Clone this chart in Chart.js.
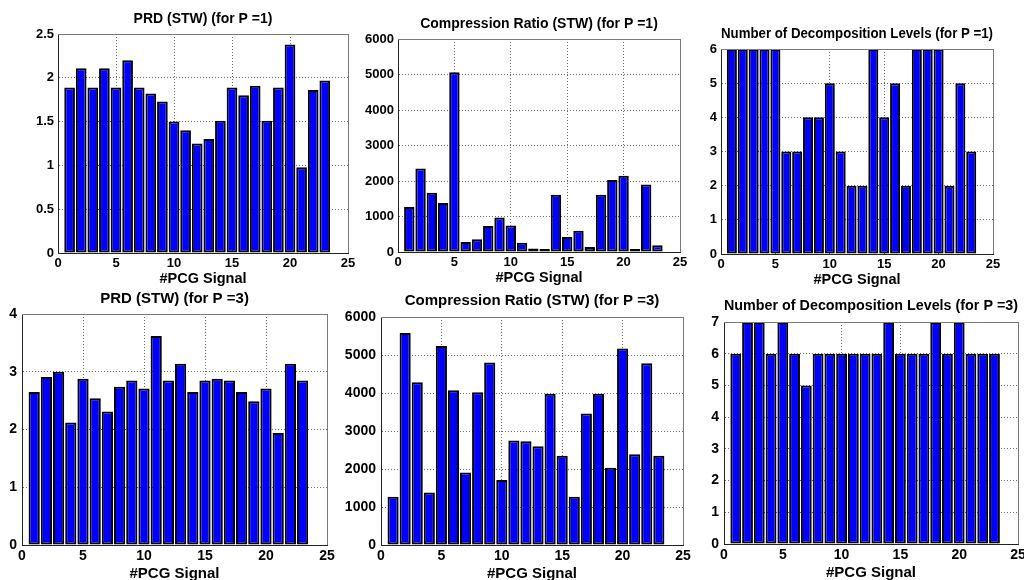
<!DOCTYPE html>
<html>
<head>
<meta charset="utf-8">
<script src="https://cdn.jsdelivr.net/npm/chart.js@4.4.1/dist/chart.umd.min.js"></script>
<style>
  html, body { margin: 0; padding: 0; background: #fff; }
  body { width: 1024px; height: 580px; overflow: hidden; position: relative; }
  canvas { position: absolute; }
</style>
</head>
<body>
<canvas id="c1"></canvas>
<canvas id="c2"></canvas>
<canvas id="c3"></canvas>
<canvas id="c4"></canvas>
<canvas id="c5"></canvas>
<canvas id="c6"></canvas>
<script>
// #PCG signal numbers (x categories)
var signals = [1, 2, 3, 4, 5, 6, 7, 8, 9, 10, 11, 12, 13, 14, 15, 16, 17, 18, 19, 20, 21, 22, 23];

// P = 1
var prdP1 = [1.89, 2.11, 1.89, 2.11, 1.89, 2.2, 1.89, 1.82, 1.73, 1.5, 1.4, 1.25, 1.3, 1.51, 1.89, 1.8, 1.91, 1.51, 1.89, 2.38, 0.98, 1.86, 1.97];
var crP1 = [1270, 2350, 1670, 1380, 5060, 280, 360, 730, 970, 750, 260, 100, 85, 1610, 420, 600, 140, 1610, 2030, 2145, 85, 1900, 190];
var levelsP1 = [6, 6, 6, 6, 6, 3, 3, 4, 4, 5, 3, 2, 2, 6, 4, 5, 2, 6, 6, 6, 2, 5, 3];

// P = 3
var prdP3 = [2.65, 2.91, 3.0, 2.12, 2.88, 2.54, 2.31, 2.74, 2.85, 2.71, 3.62, 2.85, 3.14, 2.65, 2.85, 2.88, 2.85, 2.65, 2.49, 2.71, 1.94, 3.14, 2.85];
var crP3 = [1270, 5580, 4280, 1380, 5240, 4070, 1910, 4020, 4800, 1710, 2750, 2730, 2600, 3980, 2350, 1270, 3460, 3980, 2030, 5170, 2390, 4780, 2350];
var levelsP3 = [6, 7, 7, 6, 7, 6, 5, 6, 6, 6, 6, 6, 6, 7, 6, 6, 6, 7, 6, 7, 6, 6, 6];

// Axis limits
var xMax = 25;
var xStep = 5;
var xLabel = '#PCG Signal';

var FONT = "'Liberation Sans', Arial, sans-serif";
var Y_W = 50;   // fixed width of the y axis box
var R_PAD = 20; // right padding of each canvas
var T_H = 30;   // height of the title box

// Panel layout: plot box [left, top, right, bottom] in page pixels
var panels = [
  { id: 'c1', title: 'PRD (STW) (for P =1)', values: prdP1, yMax: 2.5, yStep: 0.5, box: [58, 34, 348, 253], row: 0, titleOff: 15 },
  { id: 'c2', title: 'Compression Ratio (STW) (for P =1)', values: crP1, yMax: 6000, yStep: 1000, box: [398, 39, 680, 252], row: 0, titleOff: 15 },
  { id: 'c3', title: 'Number of Decomposition Levels (for P =1)', values: levelsP1, yMax: 6, yStep: 1, box: [721, 49, 993, 254], row: 0, titleOff: 15 },
  { id: 'c4', title: 'PRD (STW) (for P =3)', values: prdP3, yMax: 4, yStep: 1, box: [22, 314, 327, 545], row: 1, titleOff: 15 },
  { id: 'c5', title: 'Compression Ratio (STW) (for P =3)', values: crP3, yMax: 6000, yStep: 1000, box: [381, 317, 683, 545], row: 1, titleOff: 16 },
  { id: 'c6', title: 'Number of Decomposition Levels (for P =3)', values: levelsP3, yMax: 7, yStep: 1, box: [724, 322, 1018, 544], row: 1, titleOff: 16 }
];

// Font sizes per row (bottom row was rendered a little larger)
var rowStyle = [
  { title: 14, ticks: 13, xlabel: 14.5, xh: 34, yPad: 4 },
  { title: 15, ticks: 14, xlabel: 15, xh: 37, yPad: 5 }
];

// Draws the top and right edges of the axes box
var framePlugin = {
  id: 'frame',
  afterDatasetsDraw: function (chart) {
    var a = chart.chartArea;
    var ctx = chart.ctx;
    ctx.save();
    ctx.strokeStyle = '#7a7a7a';
    ctx.lineWidth = 1;
    ctx.beginPath();
    ctx.moveTo(a.left, a.top + 0.5);
    ctx.lineTo(a.right + 0.5, a.top + 0.5);
    ctx.lineTo(a.right + 0.5, a.bottom);
    ctx.stroke();
    ctx.restore();
  }
};

function makePanel(p) {
  var st = rowStyle[p.row];
  var canvas = document.getElementById(p.id);
  var l = p.box[0], t = p.box[1], r = p.box[2], b = p.box[3];
  canvas.width = (r - l) + Y_W + R_PAD;
  canvas.height = (b - t) + T_H + st.xh;
  canvas.style.left = (l - Y_W) + 'px';
  canvas.style.top = (t - T_H) + 'px';

  var padTop = T_H - 8 - p.titleOff;

  new Chart(canvas, {
    type: 'bar',
    data: {
      labels: signals,
      datasets: [{
        data: p.values,
        backgroundColor: '#0000ff',
        borderColor: '#000000',
        borderWidth: 2,
        borderSkipped: false,
        barPercentage: 0.92,
        categoryPercentage: 1.0
      }]
    },
    options: {
      responsive: false,
      animation: false,
      layout: { padding: { top: 0, left: 0, bottom: 0, right: R_PAD } },
      plugins: {
        legend: { display: false },
        tooltip: { enabled: false },
        title: {
          display: true,
          text: p.title,
          fullSize: false,
          color: '#000',
          font: { family: FONT, size: st.title, weight: 'bold', lineHeight: '16px' },
          padding: { top: padTop, bottom: T_H - 16 - padTop }
        }
      },
      scales: {
        x: {
          type: 'linear',
          min: 0,
          max: xMax,
          offset: false,
          grid: { offset: false, color: '#6a6a6a', lineWidth: 1, drawTicks: false },
          border: { display: true, color: '#222', width: 1, dash: [1, 2] },
          ticks: {
            stepSize: xStep,
            padding: 3,
            color: '#000',
            maxRotation: 0,
            font: { family: FONT, size: st.ticks, weight: 'bold', lineHeight: 1.2 },
            callback: function (v) { return String(v); }
          },
          title: {
            display: true,
            text: xLabel,
            color: '#000',
            padding: { top: 0, bottom: 0 },
            font: { family: FONT, size: st.xlabel, weight: 'bold', lineHeight: '16px' }
          },
          afterFit: function (scale) { scale.height = st.xh; }
        },
        y: {
          min: 0,
          max: p.yMax,
          grid: { color: '#6a6a6a', lineWidth: 1, drawTicks: false },
          border: { display: true, color: '#222', width: 1, dash: [1, 2] },
          ticks: {
            stepSize: p.yStep,
            padding: st.yPad,
            color: '#000',
            font: { family: FONT, size: st.ticks, weight: 'bold', lineHeight: 1.2 },
            callback: function (v) { return String(Math.round(v * 100) / 100); }
          },
          afterFit: function (scale) { scale.width = Y_W; }
        }
      }
    },
    plugins: [framePlugin]
  });
}

panels.forEach(makePanel);
</script>
</body>
</html>
